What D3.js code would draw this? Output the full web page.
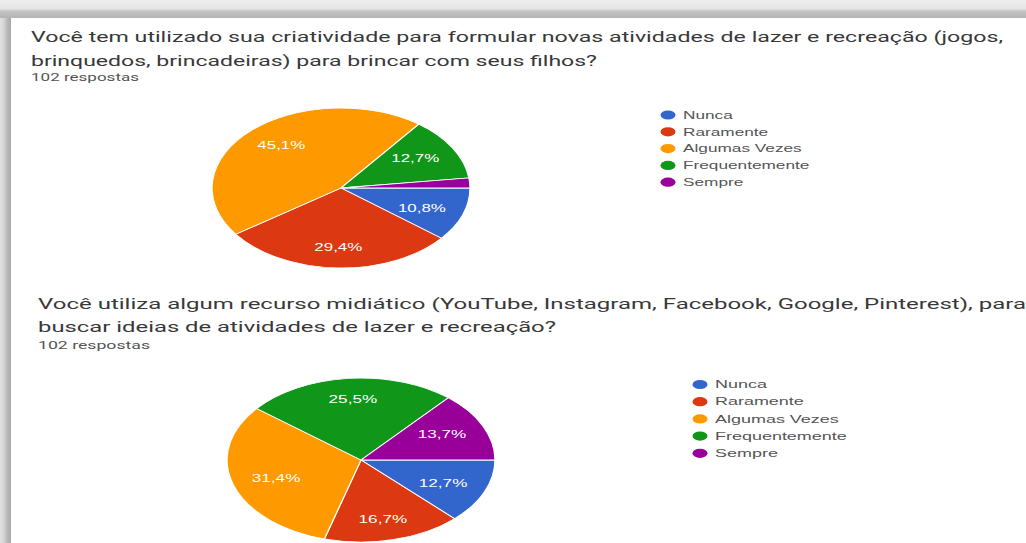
<!DOCTYPE html>
<html>
<head>
<meta charset="utf-8">
<script src="https://cdn.jsdelivr.net/npm/d3@7"></script>
<style>
  body { margin: 0; background: #fff; }
  svg { display: block; }
</style>
</head>
<body>
<div id="chart"></div>
<script>
var svgWidth = 1026;
var svgHeight = 543;

// data
var categories = ["Nunca", "Raramente", "Algumas Vezes", "Frequentemente", "Sempre"];
var colors = ["#3366cc", "#dc3912", "#ff9900", "#109618", "#990099"];
var respostas = "102 respostas";

var title1 = ["Você tem utilizado sua criatividade para formular novas atividades de lazer e recreação (jogos,",
              "brinquedos, brincadeiras) para brincar com seus filhos?"];
var values1 = [10.8, 29.4, 45.1, 12.7, 2.0];

var title2 = ["Você utiliza algum recurso midiático (YouTube, Instagram, Facebook, Google, Pinterest), para",
              "buscar ideias de atividades de lazer e recreação?"];
var values2 = [12.7, 16.7, 31.4, 25.5, 13.7];

var svg = d3.select("#chart")
  .append("svg")
  .attr("width", svgWidth)
  .attr("height", svgHeight);

// screenshot frame (shadow on top and left)
var defs = svg.append("defs");
var gTop = defs.append("linearGradient").attr("id", "gtop")
  .attr("x1", 0).attr("y1", 0).attr("x2", 0).attr("y2", 1);
gTop.append("stop").attr("offset", "0").attr("stop-color", "#eeeeee");
gTop.append("stop").attr("offset", "0.5").attr("stop-color", "#e4e4e4");
gTop.append("stop").attr("offset", "0.62").attr("stop-color", "#c4c4c4");
gTop.append("stop").attr("offset", "1").attr("stop-color", "#b4b4b4");
var gLeft = defs.append("linearGradient").attr("id", "gleft")
  .attr("x1", 0).attr("y1", 0).attr("x2", 1).attr("y2", 0);
gLeft.append("stop").attr("offset", "0").attr("stop-color", "#e2e2e2");
gLeft.append("stop").attr("offset", "0.45").attr("stop-color", "#d0d0d0");
gLeft.append("stop").attr("offset", "0.55").attr("stop-color", "#c0c0c0");
gLeft.append("stop").attr("offset", "1").attr("stop-color", "#a8a8a8");

svg.append("rect").attr("x", 0).attr("y", 0).attr("width", 11).attr("height", svgHeight)
  .attr("fill", "url(#gleft)");
svg.append("rect").attr("x", 0).attr("y", 0).attr("width", svgWidth).attr("height", 18)
  .attr("fill", "url(#gtop)");

var fmt = d3.format(".1f");

function drawBlock(opt) {
  var g = svg.append("g");

  // question title, stretched like the screenshot
  opt.title.forEach(function(line, i) {
    g.append("text")
      .attr("x", opt.tx)
      .attr("y", opt.ty[i])
      .attr("font-family", "Roboto, 'Liberation Sans', sans-serif")
      .attr("font-size", 14.5)
      .attr("fill", "#383838")
      .attr("textLength", opt.tw[i])
      .attr("lengthAdjust", "spacingAndGlyphs")
      .text(line);
  });
  g.append("text")
    .attr("x", opt.tx)
    .attr("y", opt.ty[2])
    .attr("font-family", "Roboto, 'Liberation Sans', sans-serif")
    .attr("font-size", 10.5)
    .attr("fill", "#555")
    .attr("textLength", opt.tw[2])
    .attr("lengthAdjust", "spacingAndGlyphs")
    .text(respostas);

  // pie: drawn as a circle of radius ry, then stretched to rx
  var r = opt.ry;
  var sx = opt.rx / opt.ry;
  var data = categories.map(function(c, i) { return { name: c, value: opt.values[i], color: colors[i] }; });

  var pie = d3.pie()
    .sort(null)
    .value(function(d) { return d.value; })
    .startAngle(Math.PI / 2)
    .endAngle(Math.PI / 2 + 2 * Math.PI);

  var arc = d3.arc().innerRadius(0).outerRadius(r);
  var arcs = pie(data);

  var pieG = g.append("g")
    .attr("transform", `translate(${opt.cx}, ${opt.cy}) scale(${sx}, 1)`);

  pieG.selectAll("path")
    .data(arcs)
    .enter()
    .append("path")
    .attr("d", arc)
    .attr("fill", d => d.data.color)
    .attr("stroke", "#fff")
    .attr("stroke-width", 0.8);

  var labelArc = d3.arc().innerRadius(0).outerRadius(r * 2 * 0.7);
  pieG.selectAll("text.lbl")
    .data(arcs.filter(d => d.data.value >= 5))
    .enter()
    .append("text")
    .attr("class", "lbl")
    .attr("x", d => labelArc.centroid(d)[0] * 0.95)
    .attr("y", d => labelArc.centroid(d)[1] * 1.06)
    .attr("dy", "0.36em")
    .attr("text-anchor", "middle")
    .attr("font-family", "'Liberation Sans', Arial, sans-serif")
    .attr("font-size", 10.5)
    .attr("fill", "#fff")
    .text(d => fmt(d.data.value).replace(".", ",") + "%");

  // legend
  var leg = g.append("g");
  var rows = leg.selectAll("g")
    .data(data)
    .enter()
    .append("g")
    .attr("transform", (d, i) => `translate(${opt.lx}, ${opt.ly + i * opt.lstep})`);
  rows.append("ellipse")
    .attr("cx", 0)
    .attr("cy", 0)
    .attr("rx", 7.5)
    .attr("ry", 4.6)
    .attr("fill", d => d.color);
  rows.append("text")
    .attr("x", 15)
    .attr("y", 0)
    .attr("dy", "0.36em")
    .attr("font-family", "'Liberation Sans', Arial, sans-serif")
    .attr("font-size", 10.5)
    .attr("fill", "#555")
    .text(d => d.name);
  // stretch legend text the same way as the screenshot
  rows.selectAll("text").each(function(d) {
    var w = this.getComputedTextLength();
    d3.select(this)
      .attr("textLength", w * opt.lsx)
      .attr("lengthAdjust", "spacingAndGlyphs");
  });
}

drawBlock({
  title: title1, values: values1,
  tx: 31, ty: [42, 66, 81], tw: [972, 566, 108],
  cx: 341, cy: 188, rx: 129, ry: 80,
  lx: 668, ly: 115, lstep: 16.8, lsx: 1.64
});

drawBlock({
  title: title2, values: values2,
  tx: 38, ty: [309, 332, 349], tw: [988, 518, 112],
  cx: 361, cy: 460, rx: 134, ry: 82,
  lx: 700, ly: 384.5, lstep: 17.2, lsx: 1.71
});
</script>
</body>
</html>
